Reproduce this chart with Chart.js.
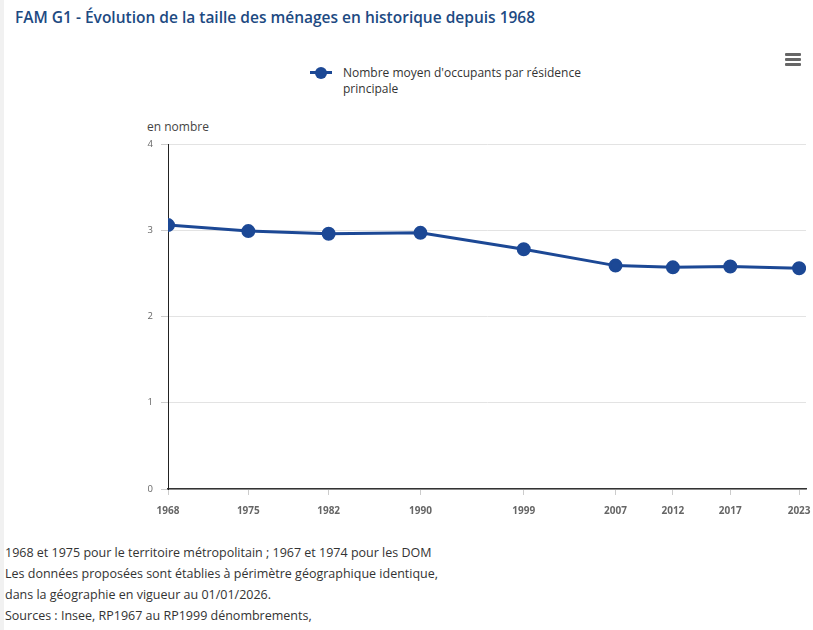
<!DOCTYPE html>
<html lang="fr">
<head>
<meta charset="utf-8">
<script src="https://cdn.jsdelivr.net/npm/chart.js@4.4.1/dist/chart.umd.min.js"></script>
<style>
  html, body { margin: 0; padding: 0; background: #fff; }
  body { width: 813px; height: 630px; position: relative; overflow: hidden; font-family: "Open Sans", sans-serif; }
  .bord { position: absolute; left: 0; top: 0; width: 4px; height: 630px; background: #f1f1f1; z-index: 2; }
  .titre { position: absolute; left: 15px; top: 6px; font-size: 15.5px; font-weight: 600; color: #1d4a82; }
  .menu { position: absolute; left: 785px; top: 53px; width: 16px; }
  .menu span { display: block; height: 3px; background: #666; margin-bottom: 2px; border-radius: 1px; }
  .legende { position: absolute; left: 310px; top: 65px; font-size: 12px; color: #333; line-height: 16px; }
  .legende .marque { position: absolute; left: 0; top: 6px; width: 22px; height: 3px; background: #1c4895; }
  .legende .marque::after { content: ""; position: absolute; left: 5px; top: -4.5px; width: 12px; height: 12px; border-radius: 50%; background: #1c4895; }
  .legende .texte { margin-left: 33px; width: 260px; }
  .unite { position: absolute; left: 147px; top: 118px; font-size: 12px; color: #444; }
  .zone { position: absolute; left: -2px; top: 100px; width: 815px; height: 430px; }
  .notes { position: absolute; left: 5px; top: 542px; font-size: 12.5px; color: #333; line-height: 21px; z-index: 2; }
</style>
</head>
<body>
<div class="bord"></div>
<div class="titre">FAM G1 - Évolution de la taille des ménages en historique depuis 1968</div>
<div class="menu"><span></span><span></span><span></span></div>
<div class="legende"><div class="marque"></div><div class="texte" id="legendeTexte"></div></div>
<div class="unite">en nombre</div>
<div class="zone"><canvas id="graphique"></canvas></div>
<div class="notes">
  1968 et 1975 pour le territoire métropolitain ; 1967 et 1974 pour les DOM<br>
  Les données proposées sont établies à périmètre géographique identique,<br>
  dans la géographie en vigueur au 01/01/2026.<br>
  Sources : Insee, RP1967 au RP1999 dénombrements,
</div>
<script>
"use strict";
const annees = [1968, 1975, 1982, 1990, 1999, 2007, 2012, 2017, 2023];
const occupants = [3.06, 2.99, 2.96, 2.97, 2.78, 2.59, 2.57, 2.58, 2.56];
const libelleSerie = "Nombre moyen d'occupants par résidence\nprincipale";
const ticksY = [0, 1, 2, 3, 4];

document.getElementById("legendeTexte").innerHTML = libelleSerie.replace("\n", "<br>");

const couleur = "#1c4895";
const points = annees.map((a, i) => ({ x: a, y: occupants[i] }));

new Chart(document.getElementById("graphique").getContext("2d"), {
    type: "line",
    data: {
        datasets: [{
            label: libelleSerie.replace("\n", " "),
            data: points,
            borderColor: couleur,
            backgroundColor: couleur,
            borderWidth: 3,
            pointRadius: 5.5,
            pointHoverRadius: 6,
            tension: 0
        }]
    },
    options: {
        responsive: true,
        maintainAspectRatio: false,
        animation: false,
        layout: { autoPadding: false, padding: { top: 44, right: 7, left: 0, bottom: 0 } },
        plugins: {
            legend: { display: false },
            tooltip: { enabled: false }
        },
        scales: {
            x: {
                type: "linear",
                min: annees[0],
                max: 2023.6,
                afterBuildTicks: scale => { scale.ticks = annees.map(v => ({ value: v })); },
                afterFit: scale => {
                    scale.height = 41;
                    scale.paddingLeft = 0;
                    scale.paddingRight = 0;
                },
                grid: { drawOnChartArea: false, drawTicks: true, tickLength: 6, color: "#cccccc" },
                border: { display: true, color: "#333333", width: 1.5 },
                ticks: {
                    autoSkip: false,
                    maxRotation: 0,
                    padding: 10,
                    color: "#666666",
                    font: { family: "Open Sans", size: 10, weight: "bold" },
                    callback: v => String(v)
                }
            },
            y: {
                min: 0,
                max: 4,
                afterBuildTicks: scale => { scale.ticks = ticksY.map(v => ({ value: v })); },
                afterFit: scale => {
                    scale.width = 170;
                    scale.paddingTop = 0;
                    scale.paddingBottom = 0;
                },
                grid: { color: "#e3e3e3", tickLength: 7, tickColor: "#cccccc" },
                border: { display: true, color: "#222222", width: 1 },
                ticks: {
                    padding: 8,
                    color: "#666666",
                    font: { family: "Open Sans", size: 9.5 }
                }
            }
        }
    }
});
</script>
</body>
</html>
